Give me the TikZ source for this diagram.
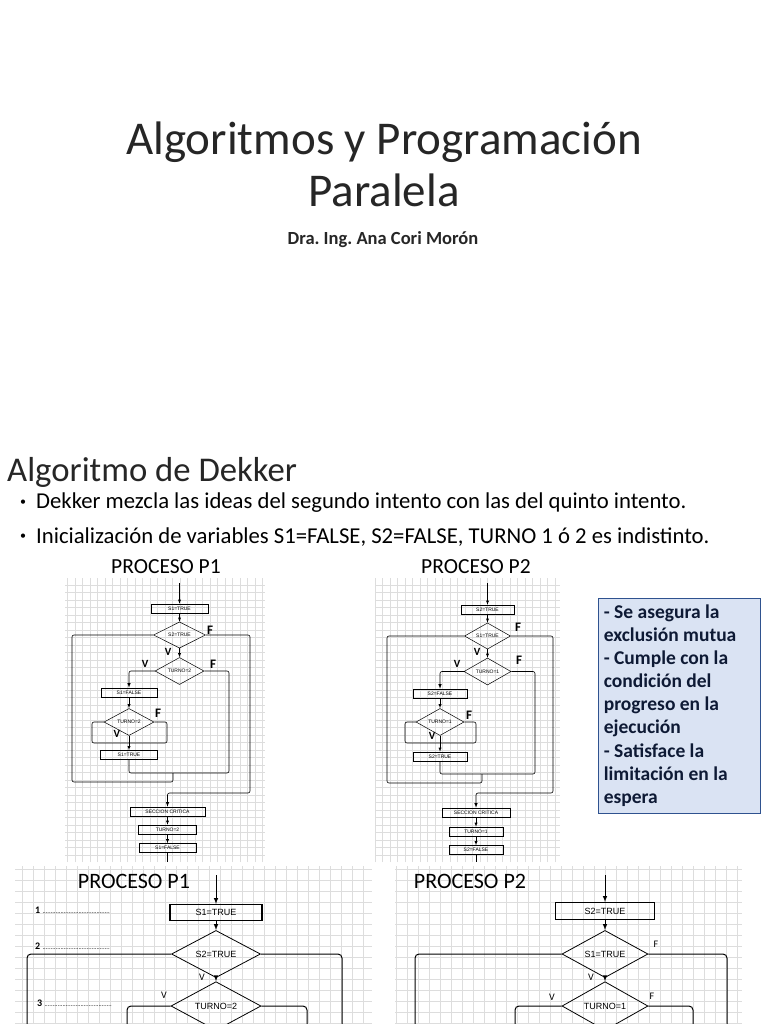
\documentclass[tikz,border=0pt]{standalone}
\usepackage{fontspec}
\setmainfont{Carlito}
\newfontfamily\chartfont{Liberation Sans}
\usepackage{xcolor}
\usetikzlibrary{shapes.geometric,arrows.meta,positioning}

\definecolor{notefill}{HTML}{DAE3F3}
\definecolor{noteline}{HTML}{2F528F}
\definecolor{notetext}{HTML}{0E1A35}
\definecolor{gridgray}{HTML}{DDDDDD}

\tikzset{
    every node/.style={inner sep=0pt},
    gridline/.style={draw=gridgray, line width=0.4pt},
    sbox/.style={draw, line width=0.6pt, minimum height=9pt, font=\chartfont\fontsize{5}{5}\selectfont},
    scond/.style={draw, diamond, line width=0.5pt, font=\chartfont\fontsize{5}{5}\selectfont},
    bbox/.style={draw, line width=1.1pt, minimum height=16pt, font=\chartfont\fontsize{9}{9}\selectfont},
    bcond/.style={draw, diamond, line width=0.8pt, font=\chartfont\fontsize{9}{9}\selectfont},
    flow/.style={draw, line width=0.6pt, rounded corners=2pt},
    bflow/.style={draw, line width=1pt, rounded corners=4pt},
    lblF/.style={font=\bfseries\fontsize{13}{13}\selectfont},
    lblV/.style={font=\bfseries\fontsize{11}{11}\selectfont},
    blbl/.style={font=\fontsize{10}{10}\selectfont},
    bullet/.style={font=\fontsize{12}{12}\selectfont},
    itemtxt/.style={anchor=west, font=\fontsize{22.7}{22.7}\selectfont}
}

\begin{document}
\frenchspacing
\begin{tikzpicture}[x=1pt, y=-1pt]
\useasboundingbox[fill=white] (0,0) rectangle (768,1024);

% title slide
\node[font=\fontsize{47}{47}\selectfont, text=black!85] (title) at (384,142) {Algoritmos y Programación};
\node[font=\fontsize{47}{47}\selectfont, text=black!85] (subtitle) at (384,190) {Paralela};
\node[font=\bfseries\fontsize{18.5}{18.5}\selectfont, text=black!85] (author) at (383,240) {Dra. Ing. Ana Cori Morón};

% Dekker slide
\node[anchor=west, font=\fontsize{34.7}{34.7}\selectfont, text=black!85] (head) at (7,472) {Algoritmo de Dekker};
\node[bullet] (dot1) at (23,503) {\textbullet};
\node[itemtxt] (item1) at (36,503) {Dekker mezcla las ideas del segundo intento con las del quinto intento.};
\node[bullet] (dot2) at (23,537) {\textbullet};
\node[itemtxt] (item2) at (36,537) {Inicialización de variables S1=FALSE, S2=FALSE, TURNO 1 ó 2 es indistinto.};
\node[font=\fontsize{21.5}{21.5}\selectfont] (titP1) at (166,567) {PROCESO P1};
\node[font=\fontsize{21.5}{21.5}\selectfont] (titP2) at (476,567) {PROCESO P2};

\draw[gridline, step=7.5pt] (65,578) grid (265,862);
\draw[gridline, step=7.5pt] (375,578) grid (560,862);

% proceso P1
\coordinate (p1in) at (179.5,583);
\node[sbox, minimum width=57pt] (p1s1) at (179.5,608.5) {S1=TRUE};
\node[scond, minimum width=52pt, minimum height=25pt] (p1c1) at (179.5,635) {S2=TRUE};
\node[scond, minimum width=49pt, minimum height=25pt] (p1c2) at (179.5,671) {TURNO=2};
\node[sbox, minimum width=56pt] (p1s2) at (129,692.5) {S1=FALSE};
\node[scond, minimum width=50pt, minimum height=21pt] (p1c3) at (129,722) {TURNO=2};
\node[sbox, minimum width=57pt] (p1s3) at (129,755) {S1=TRUE};
\node[sbox, minimum width=75pt] (p1sc) at (167.5,811.5) {SECCION CRITICA};
\node[sbox, minimum width=58pt] (p1t) at (167.5,829.5) {TURNO=2};
\node[sbox, minimum width=57pt] (p1s4) at (167.5,848) {S1=FALSE};
\coordinate (p1out) at (167.5,862);
\coordinate (p1j) at (173,773);

\draw[-latex] (p1in) -- (p1s1);
\draw[-latex] (p1s1) -- (p1c1);
\draw[-latex] (p1c1) -- (p1c2);
\draw[flow, -latex] (p1c2.west) -| (p1s2.north);
\draw[-latex] (p1s2) -- (p1c3);
\draw[-latex] (p1c3) -- (p1s3);
\draw[flow] (p1c3.west) -| (92,743) -| (167,722) -- (p1c3.east);
\draw[flow] (p1c2.east) -| (229,773) -| (p1s3.south);
\draw[flow] (p1j) |- (72,782) |- (p1c1.west);
\draw[flow, -latex] (p1c1.east) -| (250,793) -| (p1sc.north);
\draw[-latex] (p1sc) -- (p1t);
\draw[-latex] (p1t) -- (p1s4);
\draw (p1s4) -- (p1out);

\node[lblF] (p1f1) at (210,630) {F};
\node[lblV] (p1v1) at (168,652) {V};
\node[lblV] (p1v2) at (145,664) {V};
\node[lblF] (p1f2) at (213,664) {F};
\node[lblF] (p1f3) at (158,713) {F};
\node[lblV] (p1v3) at (117,734) {V};

% proceso P2
\coordinate (p2in) at (487.5,583);
\node[sbox, minimum width=53pt] (p2s1) at (487.5,609.5) {S2=TRUE};
\node[scond, minimum width=46pt, minimum height=24pt] (p2c1) at (487.5,636) {S1=TRUE};
\node[scond, minimum width=47pt, minimum height=24pt] (p2c2) at (487.5,671.5) {TURNO=1};
\node[sbox, minimum width=54pt] (p2s2) at (440,693.5) {S2=FALSE};
\node[scond, minimum width=48pt, minimum height=23pt] (p2c3) at (440,722) {TURNO=1};
\node[sbox, minimum width=54pt] (p2s3) at (440,756.5) {S2=TRUE};
\node[sbox, minimum width=68pt] (p2sc) at (476,812.5) {SECCION CRITICA};
\node[sbox, minimum width=54pt] (p2t) at (476,831.5) {TURNO=1};
\node[sbox, minimum width=54pt] (p2s4) at (476,850) {S2=FALSE};
\coordinate (p2out) at (476,862);
\coordinate (p2j) at (482,774);

\draw[-latex] (p2in) -- (p2s1);
\draw[-latex] (p2s1) -- (p2c1);
\draw[-latex] (p2c1) -- (p2c2);
\draw[flow, -latex] (p2c2.west) -| (p2s2.north);
\draw[-latex] (p2s2) -- (p2c3);
\draw[-latex] (p2c3) -- (p2s3);
\draw[flow] (p2c3.west) -| (405,743) -| (476,722) -- (p2c3.east);
\draw[flow] (p2c2.east) -| (535,774) -| (p2s3.south);
\draw[flow] (p2j) |- (387,783) |- (p2c1.west);
\draw[flow, -latex] (p2c1.east) -| (553,793) -| (p2sc.north);
\draw[-latex] (p2sc) -- (p2t);
\draw[-latex] (p2t) -- (p2s4);
\draw (p2s4) -- (p2out);

\node[lblF] (p2f1) at (518,627) {F};
\node[lblV] (p2v1) at (477,652) {V};
\node[lblV] (p2v2) at (457,664) {V};
\node[lblF] (p2f2) at (519,660) {F};
\node[lblF] (p2f3) at (469,715) {F};
\node[lblV] (p2v3) at (432,736) {V};

% notes
\node[draw=noteline, fill=notefill, line width=0.8pt, minimum width=162pt, minimum height=215pt] (note) at (679,705.5) {};
\node[anchor=north west, align=left, text=notetext, font=\bfseries\fontsize{19.5}{23.1}\selectfont]
      (notetxt) at ([xshift=6pt, yshift=-7pt]note.north west)
      {- Se asegura la\\exclusión mutua\\- Cumple con la\\condición del\\progreso en la\\ejecución\\- Satisface la\\limitación en la\\espera};

% next slide
\draw[gridline, step=11pt] (15,866) grid (372,1024);
\draw[gridline, step=11pt] (395,866) grid (742,1024);
\node[font=\fontsize{22}{22}\selectfont] (btitP1) at (134,881) {PROCESO P1};
\node[font=\fontsize{22}{22}\selectfont] (btitP2) at (470,881) {PROCESO P2};

\node[anchor=west, blbl] (ans1) at (35,910) {\textbf{1} {\fontsize{6.5}{6.5}\selectfont .........................................}};
\node[anchor=west, blbl] (ans2) at (35,946) {\textbf{2} {\fontsize{6.5}{6.5}\selectfont .........................................}};
\node[anchor=west, blbl] (ans3) at (37,1003) {\textbf{3} {\fontsize{6.5}{6.5}\selectfont .........................................}};

\coordinate (b1in) at (216,875);
\node[bbox, minimum width=92pt] (b1s1) at (216,912.5) {S1=TRUE};
\node[bcond, minimum width=89pt, minimum height=36pt] (b1c1) at (216,954) {S2=TRUE};
\node[bcond, minimum width=90pt, minimum height=36pt] (b1c2) at (216,1006) {TURNO=2};
\draw[-latex, line width=1pt] (b1in) -- (b1s1);
\draw[-latex, line width=1pt] (b1s1) -- (b1c1);
\draw[-latex, line width=1pt] (b1c1) -- (b1c2);
\draw[bflow] (b1c1.west) -| (27,1024);
\draw[bflow] (b1c1.east) -| (342,1024);
\draw[bflow] (b1c2.west) -| (127,1024);
\draw[bflow] (b1c2.east) -| (307,1024);
\node[lblV, font=\fontsize{10}{10}\selectfont] (b1v1) at (202,977) {V};
\node[lblV, font=\fontsize{10}{10}\selectfont] (b1v2) at (164,995) {V};

\coordinate (b2in) at (605,875);
\node[bbox, minimum width=99pt, minimum height=17pt] (b2s1) at (605,911) {S2=TRUE};
\node[bcond, minimum width=86pt, minimum height=36pt] (b2c1) at (605,954) {S1=TRUE};
\node[bcond, minimum width=86pt, minimum height=36pt] (b2c2) at (605,1006) {TURNO=1};
\draw[-latex, line width=1pt] (b2in) -- (b2s1);
\draw[-latex, line width=1pt] (b2s1) -- (b2c1);
\draw[-latex, line width=1pt] (b2c1) -- (b2c2);
\draw[bflow] (b2c1.west) -| (415,1024);
\draw[bflow] (b2c1.east) -| (727,1024);
\draw[bflow] (b2c2.west) -| (515,1024);
\draw[bflow] (b2c2.east) -| (693,1024);
\node[lblV, font=\fontsize{10}{10}\selectfont] (b2f1) at (656,944) {F};
\node[lblV, font=\fontsize{10}{10}\selectfont] (b2v1) at (591,977) {V};
\node[lblV, font=\fontsize{10}{10}\selectfont] (b2v2) at (552,997) {V};
\node[lblV, font=\fontsize{10}{10}\selectfont] (b2f2) at (652,996) {F};
\end{tikzpicture}
\end{document}
